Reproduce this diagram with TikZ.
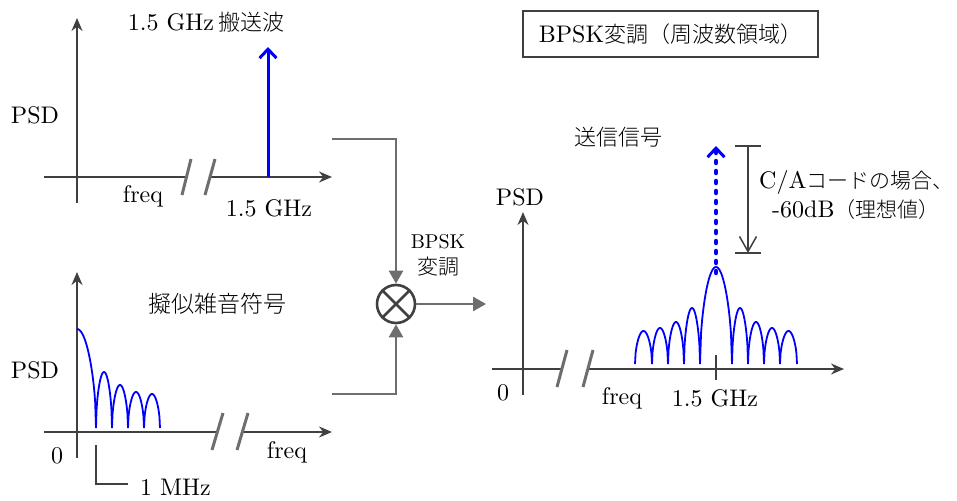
\documentclass[tikz,border=0pt]{standalone}
\usepackage{fontspec}
\setmainfont{lmroman10}[Extension=.otf,UprightFont=*-regular,BoldFont=*-bold,ItalicFont=*-italic]
\newfontfamily\jp{Noto Sans CJK JP}[UprightFont={* Light}]
\usetikzlibrary{arrows.meta}
\definecolor{axisgray}{HTML}{404040}
\definecolor{conngray}{HTML}{6E6E6E}
\definecolor{sigblue}{HTML}{0000FF}
\newcommand\sincLobe[4]{\draw[sig] plot[domain=0:180,samples=31] ({#1+(#2-#1)*\x/180},{#4-#3*sqrt(abs(sin(\x)))});}
\newcommand\jpt[1]{{\jp\fontsize{22}{26}\selectfont #1}}
\begin{document}
\begin{tikzpicture}[x=1pt,y=-1pt,
  axis/.style={draw=axisgray,line width=1.6pt,-{Stealth[length=13pt,width=11pt]}},
  axisplain/.style={draw=axisgray,line width=1.6pt},
  brk/.style={draw=conngray,line width=3pt},
  conn/.style={draw=conngray,line width=2.6pt},
  connarr/.style={conn,-{Triangle[length=13pt,width=14pt]}},
  sig/.style={draw=sigblue,line width=1.8pt},
  txt/.style={inner sep=0pt,font=\fontsize{24}{28}\selectfont},
  bpsklab/.style={inner sep=0pt,font=\fontsize{20}{24}\selectfont}]
\useasboundingbox (0,0) rectangle (957,500);

% ---------- top plot: carrier ----------
\coordinate (ty0) at (77,203);
\coordinate (ty1) at (77,18);
\coordinate (tx0) at (44,177);
\coordinate (txb1) at (186,177);
\coordinate (txb2) at (210,177);
\coordinate (tx1) at (332,177);
\coordinate (tc0) at (268,177);
\coordinate (tc1) at (268,47);
\draw[axis] (ty0) -- (ty1);
\draw[axisplain] (tx0) -- (txb1);
\draw[axis] (txb2) -- (tx1);
\draw[brk] (182,195) -- (191,159);
\draw[brk] (205,195) -- (215,159);
\draw[sig,line width=3pt,-{Straight Barb[length=9pt,width=17pt,line width=3pt]}] (tc0) -- (tc1);
\node[txt] (tlab) at (206,22) {1.5 GHz\,\jpt{搬送波}};
\node[txt] (tpsd) at (35,115) {PSD};
\node[txt] (tfreq) at (143,196) {freq};
\node[txt] (tghz) at (269,208) {1.5 GHz};

% ---------- bottom plot: PN code ----------
\coordinate (by0) at (77,458);
\coordinate (by1) at (77,272);
\coordinate (bx0) at (44,432);
\coordinate (bxb1) at (216,432);
\coordinate (bxb2) at (242,432);
\coordinate (bx1) at (332,432);
\draw[axis] (by0) -- (by1);
\draw[axisplain] (bx0) -- (bxb1);
\draw[axis] (bxb2) -- (bx1);
\draw[brk] (212,450) -- (223,413);
\draw[brk] (237,450) -- (248,413);
\draw[sig] plot[domain=0:90,samples=25] ({77+19*\x/90},{428-99*sqrt(abs(cos(\x)))});
\sincLobe{96}{112}{56}{428}
\sincLobe{112}{128}{43}{428}
\sincLobe{128}{144}{36}{428}
\sincLobe{144}{160}{34}{428}
\coordinate (mhz0) at (96,445);
\coordinate (mhz1) at (128,484);
\draw[axisgray,line width=1.2pt] (mhz0) |- (mhz1);
\node[txt,anchor=west] (mhzlab) at (140,487) {1 MHz};
\node[txt] (bzero) at (57,456) {0};
\node[txt] (bpsd) at (35,370) {PSD};
\node[txt] (bfreq) at (287,452) {freq};
\node[txt] (blab) at (217,304) {{\jp\fontsize{23}{27}\selectfont 擬似雑音符号}};

% ---------- mixer ----------
\node[circle,draw=axisgray,line width=2.6pt,minimum size=38pt,inner sep=0pt] (mix) at (396,304) {};
\draw[axisgray,line width=2.6pt] (mix.north west) -- (mix.south east) (mix.north east) -- (mix.south west);
\coordinate (cin1) at (332,139);
\coordinate (cin2) at (332,394);
\coordinate (cout) at (486,304);
\draw[connarr] (cin1) -| (mix.north);
\draw[connarr] (cin2) -| (mix.south);
\draw[connarr] (mix.east) -- (cout);
\node[bpsklab] (bpsk) at (438,242) {BPSK};
\node[bpsklab] (henchou) at (438,267) {{\jp\fontsize{21}{24}\selectfont 変調}};

% ---------- right plot: transmitted signal ----------
\node[draw=axisgray,line width=2pt,minimum width=295pt,minimum height=46pt,inner sep=0pt,font=\fontsize{24}{28}\selectfont] (title) at (670.5,34) {BPSK\jpt{変調（周波数領域）}};
\coordinate (ry0) at (523,395);
\coordinate (ry1) at (523,212);
\coordinate (rx0) at (492,369);
\coordinate (rxb1) at (562,369);
\coordinate (rxb2) at (588,369);
\coordinate (rx1) at (844,369);
\draw[axis] (ry0) -- (ry1);
\draw[axisplain] (rx0) -- (rxb1);
\draw[axis] (rxb2) -- (rx1);
\draw[brk] (557,387) -- (567,350);
\draw[brk] (583,387) -- (593,350);
\coordinate (tick0) at (716,355);
\coordinate (tick1) at (716,380);
\draw[axisplain,line width=1.2pt] (tick0) -- (tick1);
\sincLobe{635}{652}{33}{364}
\sincLobe{652}{668}{36}{364}
\sincLobe{668}{684}{42}{364}
\sincLobe{684}{700}{56}{364}
\sincLobe{700}{732}{97}{364}
\sincLobe{732}{748}{56}{364}
\sincLobe{748}{764}{42}{364}
\sincLobe{764}{780}{36}{364}
\sincLobe{780}{797}{33}{364}
\coordinate (pk) at (716,273);
\coordinate (pkt) at (716,146);
\draw[sigblue,line width=4.5pt,line cap=round,dash pattern=on 2pt off 8pt,-{Straight Barb[length=9pt,width=17pt,line width=3pt]}] (pk) -- (pkt);
\coordinate (d0) at (748,146);
\coordinate (d1) at (748,253);
\draw[axisgray,line width=1.5pt] (735,146) -- (761,146) (735,253) -- (761,253);
\draw[axisgray,line width=1.5pt,-{Straight Barb[length=15pt,width=17pt,line width=1.5pt]}] (d0) -- (d1);
\node[txt,anchor=west] (ca) at (759,182) {C/A{\jp\fontsize{21}{24}\selectfont コードの場合、}};
\node[txt,anchor=west] (db) at (772,210) {-60dB{\jp\fontsize{21}{24}\selectfont （理想値）}};
\node[txt] (rzero) at (503,393) {0};
\node[txt] (rfreq) at (622,398) {freq};
\node[txt] (rghz) at (715,398) {1.5 GHz};
\node[txt] (rpsd) at (520,197) {PSD};
\node[txt] (rlab) at (618,137) {\jpt{送信信号}};
\end{tikzpicture}
\end{document}
